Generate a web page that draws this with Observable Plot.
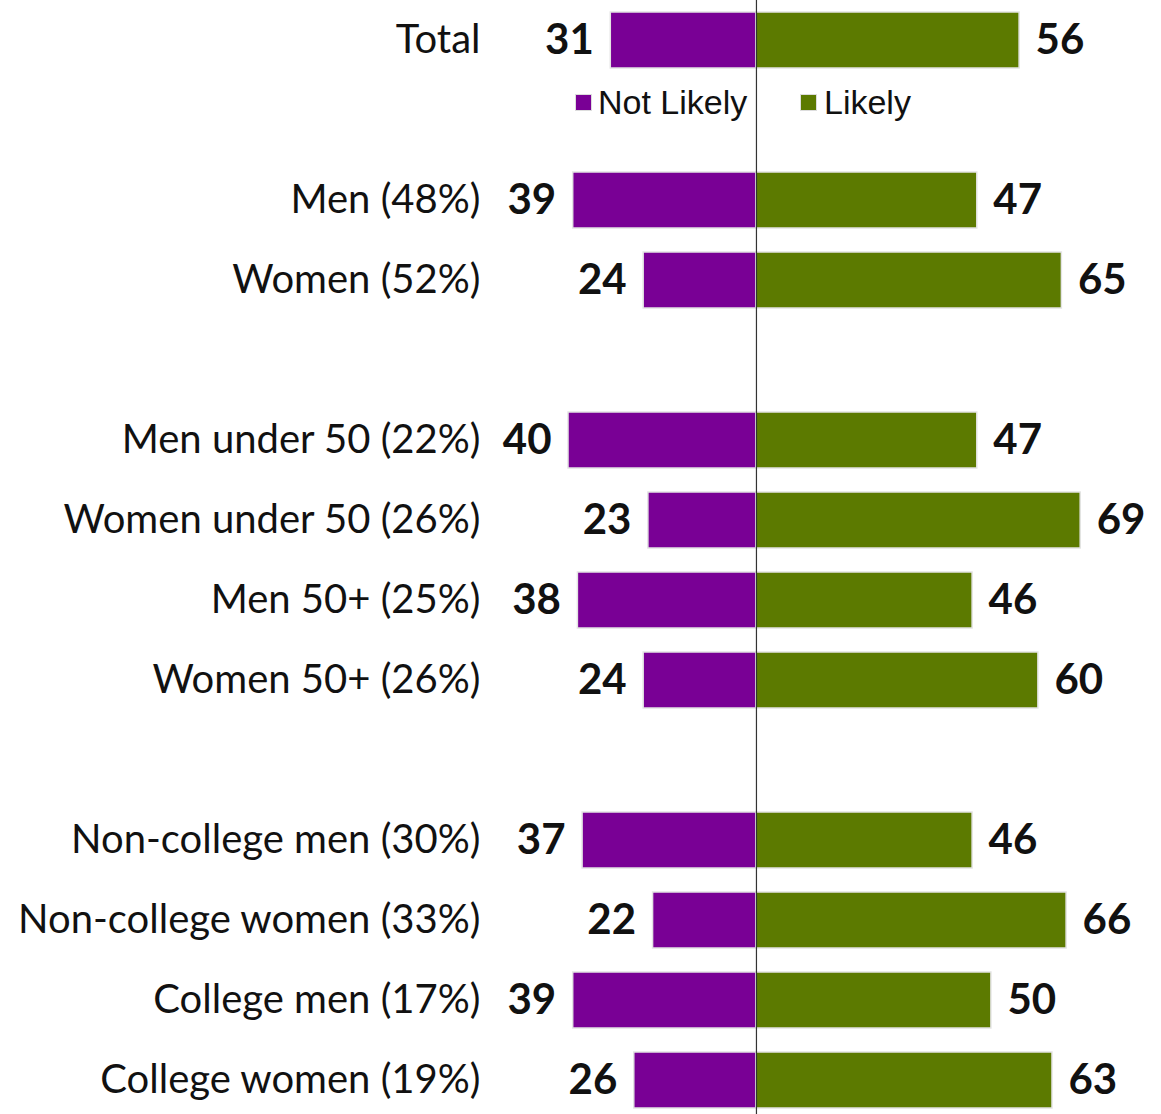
<!DOCTYPE html>
<html>
<head>
<meta charset="utf-8">
<script src="https://cdn.jsdelivr.net/npm/d3@7"></script>
<script src="https://cdn.jsdelivr.net/npm/@observablehq/plot@0.6"></script>
<style>
  html, body { margin: 0; padding: 0; background: #fff; overflow: hidden; }
  #wrap { position: relative; width: 1161px; height: 1114px; }
  .leg { position: absolute; font-family: "Liberation Sans", Arial, sans-serif; font-size: 34px; color: #111; line-height: 1; white-space: nowrap; }
  .sw { position: absolute; width: 17px; height: 17px; box-sizing: border-box; border: 1px solid #ddd; }
</style>
</head>
<body>
<div id="wrap"></div>
<script>
// Slots (placeholders starting with "_" are empty rows)
const slots = ["Total", "_legend", "Men (48%)", "Women (52%)", "_gap1",
  "Men under 50 (22%)", "Women under 50 (26%)", "Men 50+ (25%)", "Women 50+ (26%)", "_gap2",
  "Non-college men (30%)", "Non-college women (33%)", "College men (17%)", "College women (19%)"];
const categories = ["Total", "Men (48%)", "Women (52%)",
  "Men under 50 (22%)", "Women under 50 (26%)", "Men 50+ (25%)", "Women 50+ (26%)",
  "Non-college men (30%)", "Non-college women (33%)", "College men (17%)", "College women (19%)"];
const notLikely = [31, 39, 24, 40, 23, 38, 24, 37, 22, 39, 26];
const likely    = [56, 47, 65, 47, 69, 46, 60, 46, 66, 50, 63];
const seriesNames = ["Not Likely", "Likely"];
const colors = ["#790095", "#5c7a00"];

const rows = categories.map((c, i) => ({label: c, notLikely: notLikely[i], likely: likely[i]}));

const chart = Plot.plot({
  width: 1161,
  height: 1114,
  marginLeft: 490,
  marginRight: 0,
  marginTop: 0,
  marginBottom: 0,
  style: {fontFamily: "Lato, sans-serif", background: "#fff"},
  x: {domain: [-56.6, 86.2], axis: null},
  y: {domain: slots, range: [0, 1120], paddingInner: 0.3, paddingOuter: 0.15, axis: null},
  marks: [
    Plot.barX(rows, {y: "label", x1: 0, x2: d => -d.notLikely, fill: colors[0], stroke: "#e4e4e4", strokeWidth: 1.5}),
    Plot.barX(rows, {y: "label", x1: 0, x2: "likely", fill: colors[1], stroke: "#e4e4e4", strokeWidth: 1.5}),
    Plot.text(rows, {y: "label", x: d => -d.notLikely, text: d => String(d.notLikely), dx: -17, textAnchor: "end", fontWeight: "bold", fontSize: 42, fill: "#111"}),
    Plot.text(rows, {y: "label", x: "likely", text: d => String(d.likely), dx: 16, textAnchor: "start", fontWeight: "bold", fontSize: 42, fill: "#111"}),
    Plot.axisY({tickSize: 0, tickPadding: 10, label: null, fontSize: 40, fill: "#111",
      tickFormat: d => d.startsWith("_") ? "" : d}),
    Plot.ruleX([0], {stroke: "#333", strokeWidth: 1.2})
  ]
});
const wrap = document.getElementById("wrap");
wrap.appendChild(chart);

// Legend overlay
const legendItems = [
  {name: seriesNames[0], color: colors[0], sx: 575, tx: 598},
  {name: seriesNames[1], color: colors[1], sx: 800, tx: 824}
];
for (const it of legendItems) {
  const sw = document.createElement("div");
  sw.className = "sw";
  sw.style.left = it.sx + "px";
  sw.style.top = "94px";
  sw.style.background = it.color;
  wrap.appendChild(sw);
  const t = document.createElement("div");
  t.className = "leg";
  t.textContent = it.name;
  t.style.left = it.tx + "px";
  t.style.top = "85px";
  wrap.appendChild(t);
}
</script>
</body>
</html>
